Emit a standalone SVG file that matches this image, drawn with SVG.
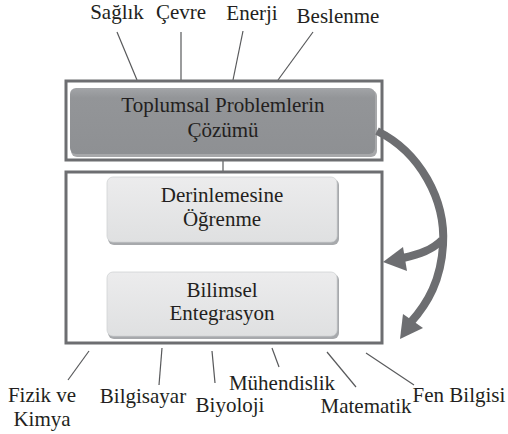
<svg xmlns="http://www.w3.org/2000/svg" width="508" height="434" viewBox="0 0 508 434">
<defs>
<style>
.t{font-family:"Liberation Serif","Times New Roman",serif;font-size:21px;fill:#231f20;text-anchor:middle}
.ln{stroke:#58595b;stroke-width:1.2;fill:none}
.frame{fill:#fff;stroke:#6d6e71;stroke-width:3}
.arr{stroke:#6d6e71;stroke-width:8;fill:none}
.head{fill:#6d6e71}
.shadow{fill:#a7a9ac}
</style>
<linearGradient id="gDark" x1="0" y1="0" x2="0" y2="1">
<stop offset="0" stop-color="#a2a4a7"/>
<stop offset="0.15" stop-color="#939598"/>
<stop offset="1" stop-color="#8e9093"/>
</linearGradient>
<linearGradient id="gLight" x1="0" y1="0" x2="0" y2="1">
<stop offset="0" stop-color="#ececed"/>
<stop offset="1" stop-color="#dfe0e1"/>
</linearGradient>
</defs>

<g id="connectors">
<line class="ln" x1="117" y1="32" x2="137" y2="80"/>
<line class="ln" x1="181" y1="32" x2="181" y2="80"/>
<line class="ln" x1="243" y1="31" x2="233" y2="80"/>
<line class="ln" x1="313" y1="32" x2="278" y2="80"/>
<line class="ln" x1="223" y1="155" x2="223" y2="177"/>
<line class="ln" x1="223" y1="243" x2="223" y2="272"/>
<line class="ln" x1="89" y1="351" x2="68" y2="380"/>
<line class="ln" x1="162" y1="348" x2="159" y2="385"/>
<line class="ln" x1="212" y1="351" x2="215" y2="383"/>
<line class="ln" x1="272" y1="348" x2="279" y2="367"/>
<line class="ln" x1="327" y1="352" x2="356" y2="387"/>
<line class="ln" x1="366" y1="353" x2="414" y2="385"/>
</g>

<g id="top-frame">
<rect class="frame" x="66" y="81" width="316" height="79"/>
</g>
<g id="bottom-frame">
<rect class="frame" x="66" y="172" width="316" height="171"/>
</g>

<g id="toplumsal">
<rect x="71" y="90" width="306" height="67" rx="6" fill="#6d6e71" opacity="0.6"/>
<rect x="70" y="88" width="305" height="66" rx="6" fill="url(#gDark)"/>
<text class="t" x="223" y="112">Toplumsal Problemlerin</text>
<text class="t" x="223" y="137">Çözümü</text>
</g>

<g id="derinlemesine">
<rect class="shadow" x="108" y="179" width="231" height="66" rx="6"/>
<rect x="107" y="177" width="230" height="65" rx="6" fill="url(#gLight)" stroke="#d1d3d4" stroke-width="0.8"/>
<text class="t" x="222" y="202">Derinlemesine</text>
<text class="t" x="222" y="226">Öğrenme</text>
</g>

<g id="bilimsel">
<rect class="shadow" x="108" y="274" width="231" height="65" rx="6"/>
<rect x="107" y="272" width="230" height="64" rx="6" fill="url(#gLight)" stroke="#d1d3d4" stroke-width="0.8"/>
<text class="t" x="222" y="297">Bilimsel</text>
<text class="t" x="222" y="320">Entegrasyon</text>
</g>

<g id="arrows">
<path class="arr" d="M377,131 C420,152 446,200 443,245 C441,280 428,303 411,322"/>
<polygon class="head" points="400,339 403,314 423,328"/>
<path class="arr" d="M442,240 C432,250 420,254 403,258"/>
<polygon class="head" points="383,262 403,247 407,271"/>
</g>

<g id="labels">
<text class="t" x="117" y="19">Sağlık</text>
<text class="t" x="181" y="19">Çevre</text>
<text class="t" x="252" y="20">Enerji</text>
<text class="t" x="338" y="23">Beslenme</text>
<text class="t" x="42" y="402">Fizik ve</text>
<text class="t" x="42" y="426">Kimya</text>
<text class="t" x="143" y="403">Bilgisayar</text>
<text class="t" x="230" y="412">Biyoloji</text>
<text class="t" x="282" y="390">Mühendislik</text>
<text class="t" x="366" y="413">Matematik</text>
<text class="t" x="459" y="402">Fen Bilgisi</text>
</g>
</svg>
